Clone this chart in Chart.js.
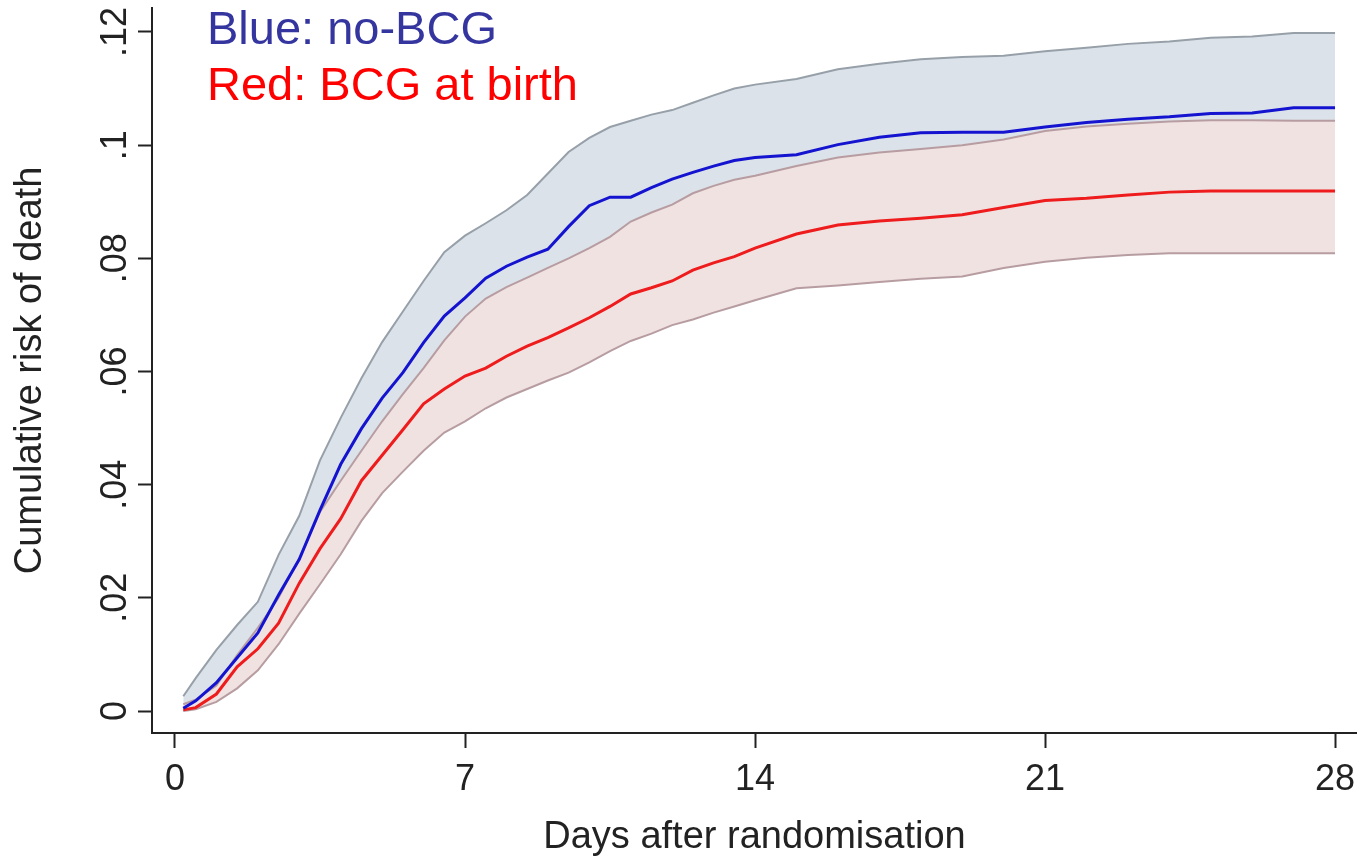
<!DOCTYPE html>
<html>
<head>
<meta charset="utf-8">
<script src="https://cdn.jsdelivr.net/npm/chart.js@4.4.1/dist/chart.umd.min.js"></script>
<style>
  html, body { margin: 0; padding: 0; background: #ffffff; }
  #wrap { width: 1357px; height: 860px; position: relative; }
  canvas { display: block; }
</style>
</head>
<body>
<div id="wrap"><canvas id="c" width="1357" height="860"></canvas></div>
<script>
// ---- data ----
const days = [0.2,0.5,1,1.5,2,2.5,3,3.5,4,4.5,5,5.5,6,6.5,7,7.5,8,8.5,9,9.5,10,10.5,11,11.5,12,12.5,13,13.5,14,15,16,17,18,19,20,21,22,23,24,25,26,27,28];

const noBcgRisk = [0.0005,0.0018,0.0050,0.0094,0.0138,0.0205,0.0268,0.0355,0.0436,0.0499,0.0553,0.0598,0.0651,0.0698,0.0730,0.0765,0.0786,0.0802,0.0816,0.0856,0.0893,0.0908,0.0908,0.0925,0.0940,0.0952,0.0963,0.0973,0.0978,0.0983,0.1001,0.1014,0.1022,0.1023,0.1023,0.1032,0.1040,0.1046,0.1050,0.1056,0.1057,0.1066,0.1066];

const noBcgUpper = [0.0026,0.0058,0.0108,0.0152,0.0193,0.0276,0.0345,0.0443,0.0518,0.0588,0.0652,0.0706,0.0760,0.0811,0.0840,0.0862,0.0885,0.0912,0.0950,0.0988,0.1013,0.1032,0.1043,0.1054,0.1062,0.1075,0.1088,0.1100,0.1107,0.1117,0.1134,0.1144,0.1152,0.1156,0.1158,0.1166,0.1172,0.1179,0.1183,0.1190,0.1192,0.1198,0.1198];

const bcgRisk = [0.0002,0.0006,0.0030,0.0078,0.0110,0.0155,0.0226,0.0287,0.0340,0.0407,0.0452,0.0497,0.0543,0.0569,0.0592,0.0606,0.0627,0.0645,0.0660,0.0677,0.0695,0.0715,0.0737,0.0748,0.0760,0.0779,0.0792,0.0803,0.0818,0.0843,0.0859,0.0866,0.0871,0.0877,0.0890,0.0902,0.0906,0.0912,0.0917,0.0919,0.0919,0.0919,0.0919];

const bcgUpper = [0.0012,0.0020,0.0045,0.0099,0.0147,0.0200,0.0270,0.0352,0.0407,0.0460,0.0512,0.0560,0.0606,0.0655,0.0697,0.0729,0.0749,0.0766,0.0783,0.0800,0.0818,0.0838,0.0865,0.0881,0.0895,0.0915,0.0928,0.0939,0.0946,0.0963,0.0978,0.0987,0.0993,0.1000,0.1010,0.1025,0.1033,0.1038,0.1042,0.1044,0.1044,0.1043,0.1043];

const bcgLower = [0.0000,0.0003,0.0016,0.0040,0.0072,0.0118,0.0172,0.0224,0.0277,0.0336,0.0385,0.0423,0.0460,0.0492,0.0512,0.0535,0.0554,0.0569,0.0584,0.0598,0.0616,0.0636,0.0654,0.0667,0.0682,0.0692,0.0704,0.0715,0.0726,0.0747,0.0752,0.0758,0.0764,0.0768,0.0783,0.0794,0.0801,0.0806,0.0809,0.0809,0.0809,0.0809,0.0809];

const xTicks = [0, 7, 14, 21, 28];
const yTicks = [0, 0.02, 0.04, 0.06, 0.08, 0.1, 0.12];
const yTickLabels = ['0', '.02', '.04', '.06', '.08', '.1', '.12'];
const legendTexts = ['Blue: no-BCG', 'Red: BCG at birth'];
const xTitle = 'Days after randomisation';
const yTitle = 'Cumulative risk of death';

// ---- build ----
const pts = arr => days.map((d, i) => ({ x: d, y: arr[i] }));
const FONT = 'Liberation Sans, Arial, Helvetica, sans-serif';

const yLabelPlugin = {
  id: 'yLabels',
  afterDraw(chart) {
    const ctx = chart.ctx;
    const ys = chart.scales.y;
    ctx.save();
    ctx.fillStyle = '#222222';
    ctx.font = '36px ' + FONT;
    ctx.textAlign = 'center';
    ctx.textBaseline = 'alphabetic';
    yTicks.forEach((v, i) => {
      const py = ys.getPixelForValue(v);
      ctx.save();
      ctx.translate(126, py);
      ctx.rotate(-Math.PI / 2);
      ctx.fillText(yTickLabels[i], 0, 0);
      ctx.restore();
    });
    // in-plot legend text
    ctx.textAlign = 'left';
    ctx.font = '47px ' + FONT;
    ctx.fillStyle = '#3535a0';
    ctx.fillText(legendTexts[0], 207, 44);
    ctx.fillStyle = '#ff0000';
    ctx.fillText(legendTexts[1], 207, 100);
    ctx.restore();
  }
};

new Chart(document.getElementById('c'), {
  type: 'line',
  data: {
    datasets: [
      { label: 'no-BCG upper CI', data: pts(noBcgUpper), borderColor: '#97a0a9', borderWidth: 2,
        backgroundColor: '#dce2e9', fill: { target: 1 }, pointRadius: 0, order: 5 },
      { label: 'BCG upper CI', data: pts(bcgUpper), borderColor: '#b79da1', borderWidth: 2,
        backgroundColor: '#f1e2e2', fill: { target: 2 }, pointRadius: 0, order: 4 },
      { label: 'BCG lower CI', data: pts(bcgLower), borderColor: '#b79da1', borderWidth: 2,
        fill: false, pointRadius: 0, order: 3 },
      { label: 'BCG at birth', data: pts(bcgRisk), borderColor: '#ee1c1c', borderWidth: 3,
        fill: false, pointRadius: 0, order: 2 },
      { label: 'no-BCG', data: pts(noBcgRisk), borderColor: '#1414d0', borderWidth: 3,
        fill: false, pointRadius: 0, order: 1 }
    ]
  },
  options: {
    responsive: false,
    animation: false,
    devicePixelRatio: 1,
    layout: { padding: { top: 8, left: 0, right: 0, bottom: 0 } },
    plugins: { legend: { display: false }, tooltip: { enabled: false } },
    elements: { line: { tension: 0 } },
    scales: {
      x: {
        type: 'linear',
        min: -0.555,
        max: 28.53,
        afterBuildTicks: s => { s.ticks = xTicks.map(v => ({ value: v })); },
        afterFit: s => { s.height = 127; s.paddingRight = 0; s.paddingLeft = 0; },
        grid: { display: true, drawOnChartArea: false, drawTicks: true, tickLength: 15, tickColor: '#222222', tickWidth: 2 },
        border: { display: true, color: '#222222', width: 2 },
        ticks: { color: '#222222', font: { family: FONT, size: 36, lineHeight: 1.2 }, padding: 10, maxRotation: 0, minRotation: 0, autoSkip: false },
        title: { display: true, text: xTitle, color: '#222222', font: { family: FONT, size: 38, lineHeight: 1.2 }, padding: { top: 0, bottom: 0 } }
      },
      y: {
        type: 'linear',
        min: -0.003888,
        max: 0.12424,
        afterBuildTicks: s => { s.ticks = yTicks.map(v => ({ value: v })); },
        afterFit: s => { s.width = 152; s.paddingTop = 0; s.paddingBottom = 0; },
        grid: { display: true, drawOnChartArea: false, drawTicks: true, tickLength: 14, tickColor: '#222222', tickWidth: 2 },
        border: { display: true, color: '#222222', width: 2 },
        ticks: { display: false },
        title: { display: true, text: yTitle, color: '#222222', font: { family: FONT, size: 38, lineHeight: 1.2 }, padding: { top: 8, bottom: 0 } }
      }
    }
  },
  plugins: [yLabelPlugin]
});
</script>
</body>
</html>
